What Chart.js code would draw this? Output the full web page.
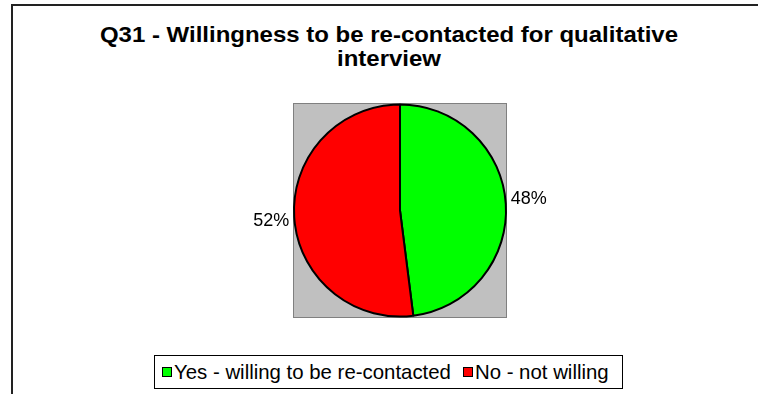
<!DOCTYPE html>
<html>
<head>
<meta charset="utf-8">
<script src="https://cdn.jsdelivr.net/npm/chart.js@4.4.1/dist/chart.umd.min.js"></script>
<style>
  html, body { margin: 0; padding: 0; background: #fff; }
  body { width: 758px; height: 394px; position: relative; overflow: hidden;
         font-family: "Liberation Sans", Arial, sans-serif; color: #000; }
  #frame { position: absolute; left: 11px; top: 4px; width: 800px; height: 420px;
           border-top: 2px solid #222; border-left: 2px solid #222; }
  #title { position: absolute; left: 89px; width: 600px; top: 23px; text-align: center;
           font-weight: bold; font-size: 22px; line-height: 24px;
           transform: scaleX(1.09); transform-origin: 300px 0; }
  #pie-wrap { position: absolute; left: 233px; top: 101px; width: 334px; height: 219px; }
  #legend { position: absolute; left: 154px; top: 355px; width: 469px; height: 34px;
            box-sizing: border-box; border: 1px solid #000; background: #fff; padding-left: 7px;
            display: flex; align-items: center; justify-content: flex-start; font-size: 20.4px; }
  .item { display: flex; align-items: center; white-space: nowrap; }
  .item + .item { margin-left: 12px; }
  .swatch { width: 8px; height: 8px; border: 1px solid #000; margin-right: 2px; }
</style>
</head>
<body>
<div id="frame"></div>
<div id="title">Q31 - Willingness to be re-contacted for qualitative<br>interview</div>
<div id="pie-wrap"><canvas id="chart"></canvas></div>
<div id="legend"></div>
<script>
// answers and their shares (%)
const categories = ['Yes - willing to be re-contacted', 'No - not willing'];
const shares = [48, 52];
const sliceColors = ['#00FF00', '#FF0000'];

// legend row under the plot
const legendEl = document.getElementById('legend');
categories.forEach((name, i) => {
  const item = document.createElement('div');
  item.className = 'item';
  const sw = document.createElement('span');
  sw.className = 'swatch';
  sw.style.background = sliceColors[i];
  const txt = document.createElement('span');
  txt.textContent = name;
  item.appendChild(sw);
  item.appendChild(txt);
  legendEl.appendChild(item);
});

// grey plot area behind the pie
const plotBackground = {
  id: 'plotBackground',
  beforeDraw(chart) {
    const { ctx, chartArea: a } = chart;
    ctx.save();
    ctx.fillStyle = '#C0C0C0';
    ctx.fillRect(a.left, a.top, a.right - a.left, a.bottom - a.top);
    ctx.strokeStyle = '#808080';
    ctx.lineWidth = 1;
    ctx.strokeRect(a.left + 0.5, a.top + 0.5, a.right - a.left - 1, a.bottom - a.top - 1);
    ctx.restore();
  }
};

// percentage labels just outside each slice
const outsideLabels = {
  id: 'outsideLabels',
  afterDatasetsDraw(chart) {
    const { ctx } = chart;
    const meta = chart.getDatasetMeta(0);
    ctx.save();
    ctx.font = '18px "Liberation Sans", Arial, sans-serif';
    ctx.fillStyle = '#000';
    ctx.textBaseline = 'middle';
    meta.data.forEach((arc, i) => {
      const p = arc.getProps(['x', 'y', 'startAngle', 'endAngle', 'outerRadius'], true);
      const mid = (p.startAngle + p.endAngle) / 2;
      const r = p.outerRadius + 5;
      const x = p.x + Math.cos(mid) * r;
      // labels sit a little further from the centre line than the arc itself
      const y = p.y + Math.sin(mid) * r + Math.sign(Math.sin(mid)) * 4;
      ctx.textAlign = Math.cos(mid) >= 0 ? 'left' : 'right';
      ctx.fillText(shares[i] + '%', x, y);
    });
    ctx.restore();
  }
};

new Chart(document.getElementById('chart'), {
  type: 'pie',
  data: {
    labels: categories,
    datasets: [{
      data: shares,
      backgroundColor: sliceColors,
      borderColor: '#000',
      borderWidth: 2
    }]
  },
  options: {
    responsive: true,
    maintainAspectRatio: false,
    animation: false,
    layout: { padding: { left: 60, right: 60, top: 2, bottom: 2 } },
    plugins: {
      legend: { display: false },
      title: { display: false },
      tooltip: { enabled: false }
    }
  },
  plugins: [plotBackground, outsideLabels]
});
</script>
</body>
</html>
